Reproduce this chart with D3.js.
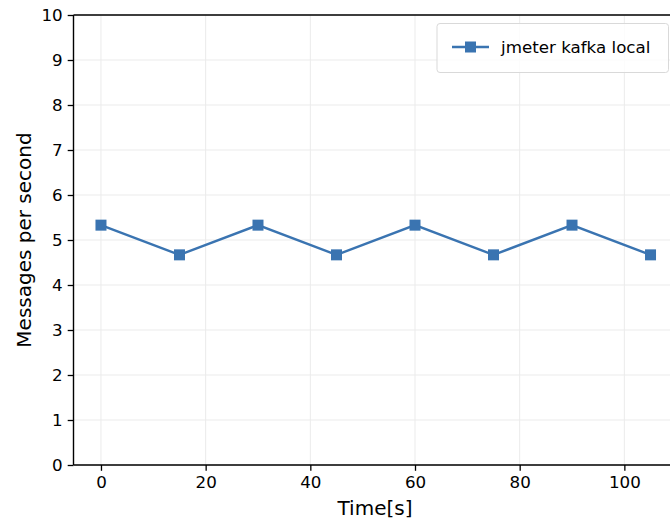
<!DOCTYPE html>
<html lang="en">
  <head>
    <meta charset="UTF-8" />
    <title>jmeter kafka local</title>
    <script src="https://d3js.org/d3.v7.min.js"></script>
    <style>
      body { margin: 0; background: #fff; }
      svg text { font-family: "DejaVu Sans", sans-serif; fill: #000; }
    </style>
  </head>
  <body>
    <div id="chart"></div>
    <script>
      // data
      const times = [0, 15, 30, 45, 60, 75, 90, 105];
      const rates = [5.33, 4.67, 5.33, 4.67, 5.33, 4.67, 5.33, 4.67];
      const xTicks = [0, 20, 40, 60, 80, 100];
      const yTicks = [0, 1, 2, 3, 4, 5, 6, 7, 8, 9, 10];
      const seriesName = "jmeter kafka local";

      const W = 670, H = 523;
      const plotLeft = 73.5, plotTop = 15, plotBottom = 465;
      const plotRight = 678; // plot runs past the window edge
      const color = "#3a74b1";

      const svg = d3.select("#chart").append("svg")
        .attr("width", W).attr("height", H);

      const x = d3.scaleLinear().domain([-5.25, 110.25]).range([plotLeft, plotRight]);
      const y = d3.scaleLinear().domain([0, 10]).range([plotBottom, plotTop]);

      // grid
      svg.append("g").selectAll("line").data(xTicks).join("line")
        .attr("x1", d => x(d)).attr("x2", d => x(d))
        .attr("y1", plotTop).attr("y2", plotBottom)
        .attr("stroke", "#ebebeb").attr("stroke-width", 1);
      svg.append("g").selectAll("line").data(yTicks).join("line")
        .attr("x1", plotLeft).attr("x2", plotRight)
        .attr("y1", d => y(d)).attr("y2", d => y(d))
        .attr("stroke", "#ebebeb").attr("stroke-width", 1);

      // axes
      const xAxis = svg.append("g")
        .attr("transform", `translate(0,${plotBottom})`)
        .call(d3.axisBottom(x).tickValues(xTicks).tickSize(5.8).tickPadding(5));
      const yAxis = svg.append("g")
        .attr("transform", `translate(${plotLeft},0)`)
        .call(d3.axisLeft(y).tickValues(yTicks).tickSize(5.8).tickPadding(5));
      [xAxis, yAxis].forEach(g => {
        g.select(".domain").remove();
        g.selectAll("line").attr("stroke", "#000").attr("stroke-width", 1.3);
        g.selectAll("text").attr("font-size", 16.7).attr("font-family", "DejaVu Sans").attr("fill", "#000");
      });

      // spines
      svg.append("line").attr("x1", plotLeft).attr("x2", plotLeft).attr("y1", plotTop).attr("y2", plotBottom)
        .attr("stroke", "#000").attr("stroke-width", 1.4);
      svg.append("line").attr("x1", plotLeft).attr("x2", plotRight).attr("y1", plotBottom).attr("y2", plotBottom)
        .attr("stroke", "#000").attr("stroke-width", 1.4);
      svg.append("line").attr("x1", plotLeft).attr("x2", plotRight).attr("y1", plotTop).attr("y2", plotTop)
        .attr("stroke", "#000").attr("stroke-width", 1.4);

      // labels
      svg.append("text").attr("x", 375).attr("y", 515)
        .attr("text-anchor", "middle").attr("font-size", 20).text("Time[s]");
      svg.append("text")
        .attr("transform", `translate(31,${(plotTop + plotBottom) / 2}) rotate(-90)`)
        .attr("text-anchor", "middle").attr("font-size", 20).text("Messages per second");

      // series
      const pts = times.map((t, i) => ({ t: t, v: rates[i] }));
      svg.append("path").datum(pts)
        .attr("fill", "none").attr("stroke", color).attr("stroke-width", 2.4)
        .attr("d", d3.line().x(d => x(d.t)).y(d => y(d.v)));
      svg.append("g").selectAll("rect").data(pts).join("rect")
        .attr("x", d => x(d.t) - 5.5).attr("y", d => y(d.v) - 5.5)
        .attr("width", 11).attr("height", 11).attr("fill", color);

      // legend
      const lg = svg.append("g");
      lg.append("rect").attr("x", 437).attr("y", 23.5).attr("width", 231.5).attr("height", 49)
        .attr("rx", 3).attr("fill", "#fff").attr("fill-opacity", 0.8)
        .attr("stroke", "#d9d9d9").attr("stroke-width", 1);
      lg.append("line").attr("x1", 452).attr("x2", 489).attr("y1", 47).attr("y2", 47)
        .attr("stroke", color).attr("stroke-width", 2.4);
      lg.append("rect").attr("x", 465).attr("y", 41.5).attr("width", 11).attr("height", 11).attr("fill", color);
      lg.append("text").attr("x", 501).attr("y", 53).attr("font-size", 16.7).text(seriesName);
    </script>
  </body>
</html>
